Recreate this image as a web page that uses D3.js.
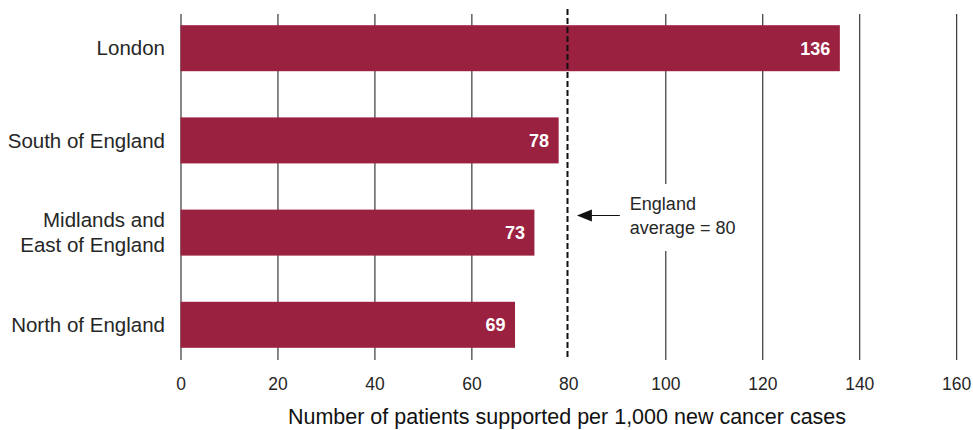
<!DOCTYPE html>
<html>
<head>
<meta charset="utf-8">
<script src="https://cdn.jsdelivr.net/npm/d3@7"></script>
<style>
  html, body { margin: 0; padding: 0; background: #fff; }
  svg { display: block; font-family: "Liberation Sans", Arial, sans-serif; }
</style>
</head>
<body>
<svg id="chart" width="973" height="430"></svg>
<script>
// Regions and patients supported per 1,000 new cancer cases
const regions = [["London"], ["South of England"], ["Midlands and", "East of England"], ["North of England"]];
const regionKeys = ["London", "South of England", "Midlands and East of England", "North of England"];
const values = [136, 78, 73, 69];
const englandAverage = 80;
const averageLabel = ["England", "average = 80"];
const xTicks = [0, 20, 40, 60, 80, 100, 120, 140, 160];
const xTitle = "Number of patients supported per 1,000 new cancer cases";

const barColor = "#9b2141";
const textColor = "#262626";

const svg = d3.select("#chart");

const x = d3.scaleLinear().domain([0, 160]).range([180, 955.7]);

// band layout: first bar top at 25, step ~92px, bars 46px tall
const step = 92.2, padIn = 0.501, padOut = 0.25, firstTop = 25.2;
const y0 = firstTop - padOut * step;
const y = d3.scaleBand().domain(regionKeys)
  .range([y0, y0 + step * (regionKeys.length - padIn + 2 * padOut)])
  .paddingInner(padIn).paddingOuter(padOut);

const gridTop = 14, gridBottom = 360;

// vertical gridlines doubling as axis ticks
const axis = d3.axisBottom(x).tickValues(xTicks).tickSize(gridBottom - gridTop);
const gAxis = svg.append("g").attr("transform", `translate(0.5,${gridTop})`).call(axis);
gAxis.select(".domain").remove();
gAxis.selectAll(".tick line").attr("stroke", "#111").attr("stroke-width", 1);
gAxis.selectAll(".tick").filter(d => d === 80).select("line").remove();
gAxis.selectAll(".tick text")
  .attr("fill", textColor)
  .style("font-size", "17.5px")
  .attr("dy", "0.36em")
  .attr("y", 384 - gridTop);

// bars
svg.append("g").selectAll("rect").data(values).join("rect")
  .attr("x", x(0) + 0.5)
  .attr("y", (d, i) => y(regionKeys[i]))
  .attr("width", d => x(d) - x(0))
  .attr("height", y.bandwidth())
  .attr("fill", barColor);

// value labels inside bars
svg.append("g").selectAll("text").data(values).join("text")
  .attr("x", d => x(d) - 9)
  .attr("y", (d, i) => y(regionKeys[i]) + y.bandwidth() / 2)
  .attr("dy", "0.36em")
  .attr("text-anchor", "end")
  .attr("fill", "#fff")
  .style("font-size", "18px")
  .style("font-weight", "bold")
  .text(d => d);

// category labels
const labels = svg.append("g").selectAll("text").data(regions).join("text")
  .attr("text-anchor", "end")
  .attr("fill", textColor)
  .style("font-size", "20.5px")
  .attr("transform", (d, i) => `translate(165,${y(regionKeys[i]) + y.bandwidth() / 2})`);
labels.selectAll("tspan").data(d => d.map((t, j) => ({t, j, n: d.length}))).join("tspan")
  .attr("x", 0)
  .attr("y", d => (d.j - (d.n - 1) / 2) * 25)
  .attr("dy", "0.35em")
  .text(d => d.t);

// England average: dashed reference line
svg.append("line")
  .attr("x1", Math.round(x(englandAverage)) - 0.5).attr("x2", Math.round(x(englandAverage)) - 0.5)
  .attr("y1", 9).attr("y2", gridBottom)
  .attr("stroke", "#111").attr("stroke-width", 2)
  .attr("stroke-dasharray", "6,3");

// annotation with white backing over the gridlines
const annX = x(englandAverage) + 62, annY = 215;
svg.append("rect")
  .attr("x", annX - 6).attr("y", annY - 31)
  .attr("width", 118).attr("height", 67)
  .attr("fill", "#fff");
svg.append("text")
  .attr("fill", textColor)
  .style("font-size", "18px")
  .selectAll("tspan").data(averageLabel).join("tspan")
  .attr("x", annX)
  .attr("y", (d, i) => annY - 11 + i * 24)
  .attr("dy", "0.35em")
  .text(d => d);

// arrow pointing at the average line
const arrowStart = x(englandAverage) + 52, arrowEnd = x(englandAverage) + 9;
svg.append("line")
  .attr("x1", arrowStart).attr("x2", arrowEnd + 10)
  .attr("y1", annY + 0.5).attr("y2", annY + 0.5)
  .attr("stroke", "#111").attr("stroke-width", 1.2);
svg.append("path")
  .attr("d", `M${arrowEnd},${annY + 0.5} L${arrowEnd + 15},${annY - 5.5} L${arrowEnd + 15},${annY + 6.5} Z`)
  .attr("fill", "#111");

// axis title
svg.append("text")
  .attr("x", (287 + 847) / 2)
  .attr("y", 424)
  .attr("text-anchor", "middle")
  .attr("fill", "#111")
  .style("font-size", "21.5px")
  .text(xTitle);
</script>
</body>
</html>
